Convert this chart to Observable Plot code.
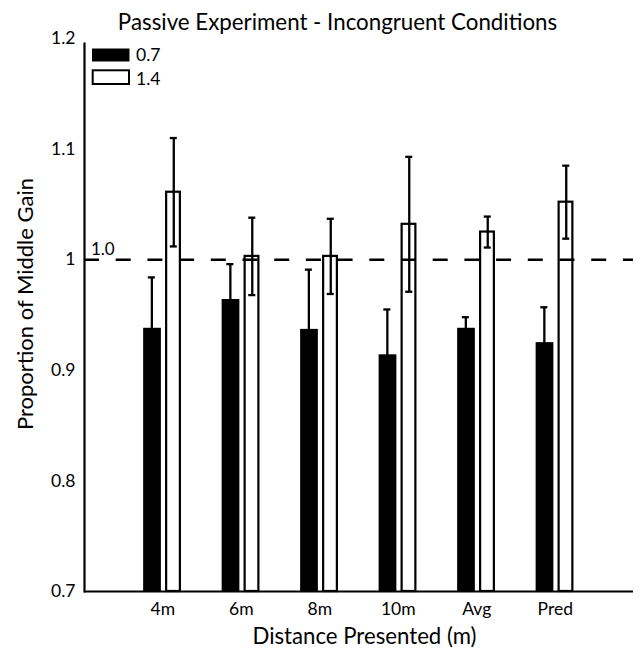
<!DOCTYPE html>
<html>
<head>
<meta charset="utf-8">
<script src="https://cdn.jsdelivr.net/npm/d3@7"></script>
<script src="https://cdn.jsdelivr.net/npm/@observablehq/plot@0.6"></script>
<style>
  html, body { margin: 0; padding: 0; background: #fff; }
  #wrap { position: relative; width: 640px; height: 649px; font-family: Lato, "Open Sans", sans-serif; }
  #legend { position: absolute; left: 0; top: 0; pointer-events: none; }
</style>
</head>
<body>
<div id="wrap"></div>
<script>
// ---- data ----
const titleText = "Passive Experiment - Incongruent Conditions";
const xTitle = "Distance Presented (m)";
const yTitle = "Proportion of Middle Gain";
const categories = ["4m", "6m", "8m", "10m", "Avg", "Pred"];
const series = ["0.7", "1.4"];
const mean07 = [0.938, 0.964, 0.937, 0.914, 0.938, 0.925];
const err07  = [0.046, 0.032, 0.054, 0.041, 0.010, 0.032];
const mean14 = [1.061, 1.003, 1.003, 1.032, 1.025, 1.052];
const err14  = [0.049, 0.035, 0.034, 0.061, 0.014, 0.033];
const yDomain = [0.7, 1.2];
const yTicks = [0.7, 0.8, 0.9, 1, 1.1, 1.2];
const yTickLabels = ["0.7", "0.8", "0.9", "1", "1.1", "1.2"];
const refValue = 1.0;
const refLabel = "1.0";

const d07 = categories.map((c, i) => ({cat: c, series: series[0], mean: mean07[i], err: err07[i]}));
const d14 = categories.map((c, i) => ({cat: c, series: series[1], mean: mean14[i], err: err14[i]}));

const FONT = "Lato, 'Open Sans', sans-serif";
const offBlack = -10.9, offWhite = 11;
const capInset = 16.1;

const chart = Plot.plot({
  width: 640,
  height: 649,
  marginTop: 38,
  marginBottom: 58,
  marginLeft: 84,
  marginRight: 7,
  style: {fontFamily: FONT, fontSize: "17.5px", background: "#fff", color: "#000"},
  x: {domain: categories, paddingInner: 0.5, paddingOuter: 0.747, round: false, label: null},
  y: {domain: yDomain, label: null},
  marks: [
    Plot.barY(d07, {x: "cat", y1: () => yDomain[0], y2: "mean", fill: "#000", insetLeft: 0.5, insetRight: 21}),
    Plot.barY(d14, {x: "cat", y1: () => yDomain[0], y2: "mean", fill: "#fff", stroke: "#000", strokeWidth: 2.2, insetLeft: 23.5, insetRight: 2}),
    Plot.ruleY([refValue], {stroke: "#000", strokeWidth: 2.5, strokeDasharray: "15,16.7"}),
    Plot.text([refLabel], {y: () => refValue, text: d => d, frameAnchor: "left", textAnchor: "start", lineAnchor: "bottom", dx: 6.5, dy: -5, fontSize: 17}),
    // error bars
    Plot.ruleX(d07, {x: "cat", y1: d => d.mean - d.err, y2: d => d.mean + d.err, dx: offBlack, stroke: "#000", strokeWidth: 2.3}),
    Plot.tickY(d07, {x: "cat", y: d => d.mean + d.err, dx: offBlack, insetLeft: capInset, insetRight: capInset, stroke: "#000", strokeWidth: 2.3}),
    Plot.tickY(d07, {x: "cat", y: d => d.mean - d.err, dx: offBlack, insetLeft: capInset, insetRight: capInset, stroke: "#000", strokeWidth: 2.3}),
    Plot.ruleX(d14, {x: "cat", y1: d => d.mean - d.err, y2: d => d.mean + d.err, dx: offWhite, stroke: "#000", strokeWidth: 2.3}),
    Plot.tickY(d14, {x: "cat", y: d => d.mean + d.err, dx: offWhite, insetLeft: capInset, insetRight: capInset, stroke: "#000", strokeWidth: 2.3}),
    Plot.tickY(d14, {x: "cat", y: d => d.mean - d.err, dx: offWhite, insetLeft: capInset, insetRight: capInset, stroke: "#000", strokeWidth: 2.3}),
    // axes
    Plot.frame({anchor: "left", stroke: "#000", strokeWidth: 2.2, insetTop: 5}),
    Plot.ruleY([yDomain[0]], {stroke: "#000", strokeWidth: 2.2}),
    Plot.axisY({ticks: yTicks, tickFormat: d => yTickLabels[yTicks.indexOf(d)], tickSize: 0, tickPadding: 9, fontSize: 17.5, label: null}),
    Plot.axisX({tickSize: 0, tickPadding: 11, fontSize: 17.5, label: null}),
    // titles
    Plot.text([titleText], {text: d => d, frameAnchor: "top", textAnchor: "middle", lineAnchor: "bottom", dx: -21.5, dy: -9, fontSize: 22.3}),
    Plot.text([xTitle], {text: d => d, frameAnchor: "bottom", textAnchor: "middle", lineAnchor: "bottom", dx: 5.5, dy: 52, fontSize: 22.2}),
    Plot.text([yTitle], {text: d => d, frameAnchor: "left", rotate: -90, textAnchor: "middle", lineAnchor: "middle", dx: -59, dy: -11, fontSize: 22})
  ]
});

const wrap = document.getElementById("wrap");
wrap.appendChild(chart);

// legend overlay
const NS = "http://www.w3.org/2000/svg";
const lg = document.createElementNS(NS, "svg");
lg.setAttribute("id", "legend");
lg.setAttribute("width", 220);
lg.setAttribute("height", 100);
const items = [
  {name: series[0], fill: "#000", stroke: "none", x: 92, y: 48.5, w: 37.5, h: 13, ty: 61},
  {name: series[1], fill: "#fff", stroke: "#000", x: 92.7, y: 70.3, w: 36.3, h: 13.7, ty: 85}
];
for (const it of items) {
  const r = document.createElementNS(NS, "rect");
  r.setAttribute("x", it.x); r.setAttribute("y", it.y);
  r.setAttribute("width", it.w); r.setAttribute("height", it.h);
  r.setAttribute("fill", it.fill);
  if (it.stroke !== "none") { r.setAttribute("stroke", it.stroke); r.setAttribute("stroke-width", 2); }
  lg.appendChild(r);
  const t = document.createElementNS(NS, "text");
  t.setAttribute("x", 136); t.setAttribute("y", it.ty);
  t.setAttribute("font-family", FONT); t.setAttribute("font-size", "17.5px");
  t.textContent = it.name;
  lg.appendChild(t);
}
wrap.appendChild(lg);
</script>
</body>
</html>
